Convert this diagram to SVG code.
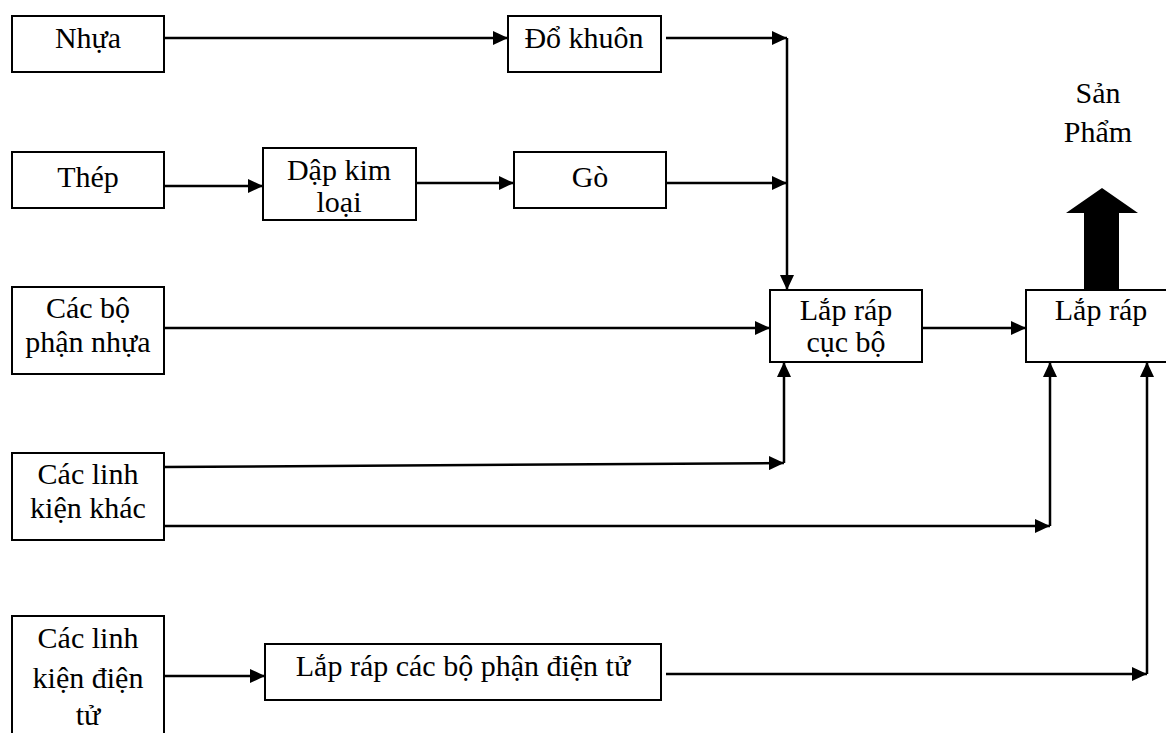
<svg xmlns="http://www.w3.org/2000/svg" width="1166" height="733" viewBox="0 0 1166 733">
<style>
.box{fill:#fff;stroke:#000;stroke-width:2}
.t{font-size:30px;fill:#000;text-anchor:middle}
.c{fill:none;stroke:#000;stroke-width:2.5}
</style>
<defs>
<marker id="ah" markerUnits="userSpaceOnUse" markerWidth="16" markerHeight="14" refX="15" refY="7" orient="auto">
<path d="M0,0 L15,7 L0,14 Z" fill="#000"/>
</marker>
</defs>
<rect width="1166" height="733" fill="#fff"/>
<g id="connectors">
<path class="c" d="M164,38 H508" marker-end="url(#ah)"/>
<path class="c" d="M666,38 H787" marker-end="url(#ah)"/>
<path class="c" d="M164,186 H263" marker-end="url(#ah)"/>
<path class="c" d="M416,183 H514" marker-end="url(#ah)"/>
<path class="c" d="M666,183 H787" marker-end="url(#ah)"/>
<path class="c" d="M787,38 V290" marker-end="url(#ah)"/>
<path class="c" d="M164,328 H770" marker-end="url(#ah)"/>
<path class="c" d="M922,328 H1026" marker-end="url(#ah)"/>
<path class="c" d="M164,467 L784,463" marker-end="url(#ah)"/>
<path class="c" d="M784,463 V362" marker-end="url(#ah)"/>
<path class="c" d="M164,526 H1050" marker-end="url(#ah)"/>
<path class="c" d="M1050,526 V362" marker-end="url(#ah)"/>
<path class="c" d="M164,676 H265" marker-end="url(#ah)"/>
<path class="c" d="M666,674 H1147" marker-end="url(#ah)"/>
<path class="c" d="M1147,674 V362" marker-end="url(#ah)"/>
<polygon points="1084,290 1084,213 1066,213 1102,188 1138,213 1119,213 1119,290" fill="#000"/>
</g>
<g font-family="'Liberation Serif', 'Times New Roman', 'DejaVu Serif', serif">
<g id="nhua"><rect class="box" x="12" y="16" width="152" height="56"/><text class="t" x="88" y="48">Nhựa</text></g>
<g id="do-khuon"><rect class="box" x="508" y="16" width="153" height="56"/><text class="t" x="584" y="48">Đổ khuôn</text></g>
<g id="thep"><rect class="box" x="12" y="152" width="152" height="56"/><text class="t" x="88" y="187">Thép</text></g>
<g id="dap-kim-loai"><rect class="box" x="263" y="148" width="153" height="72"/><text class="t" x="339" y="180">Dập kim</text><text class="t" x="339" y="212">loại</text></g>
<g id="go"><rect class="box" x="514" y="152" width="152" height="56"/><text class="t" x="590" y="187">Gò</text></g>
<g id="san-pham"><text class="t" x="1098" y="103">Sản</text><text class="t" x="1098" y="142">Phẩm</text></g>
<g id="cac-bo-phan-nhua"><rect class="box" x="12" y="287" width="152" height="87"/><text class="t" x="88" y="318">Các bộ</text><text class="t" x="88" y="352">phận nhựa</text></g>
<g id="lap-rap-cuc-bo"><rect class="box" x="770" y="290" width="152" height="72"/><text class="t" x="846" y="320">Lắp ráp</text><text class="t" x="846" y="352">cục bộ</text></g>
<g id="lap-rap"><rect class="box" x="1026" y="290" width="150" height="72"/><text class="t" x="1101" y="320">Lắp ráp</text></g>
<g id="cac-linh-kien-khac"><rect class="box" x="12" y="453" width="152" height="87"/><text class="t" x="88" y="484">Các linh</text><text class="t" x="88" y="518">kiện khác</text></g>
<g id="cac-linh-kien-dien-tu"><rect class="box" x="12" y="616" width="152" height="130"/><text class="t" x="88" y="648">Các linh</text><text class="t" x="88" y="688">kiện điện</text><text class="t" x="88" y="725">tử</text></g>
<g id="lap-rap-dien-tu"><rect class="box" x="265" y="644" width="396" height="56"/><text class="t" x="463" y="676">Lắp ráp các bộ phận điện tử</text></g>
</g>
</svg>
